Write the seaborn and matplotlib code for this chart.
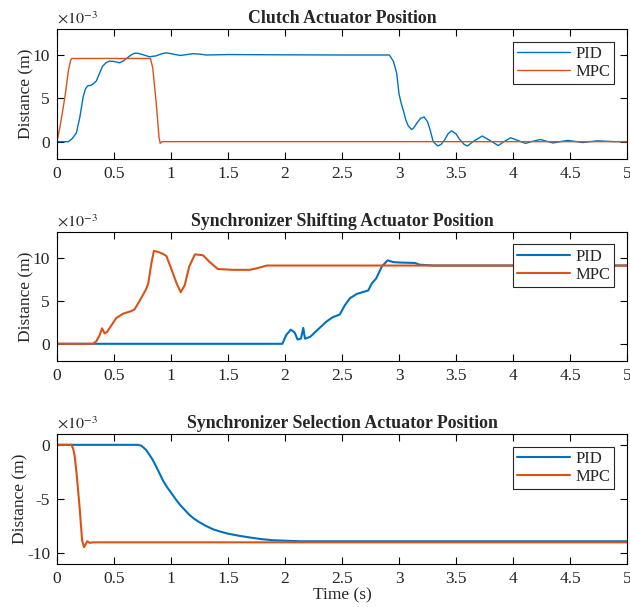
import matplotlib
matplotlib.use("Agg")
import matplotlib.pyplot as plt
import seaborn as sns
import pandas as pd
from matplotlib.ticker import FuncFormatter

# ---------------- data (values in 1e-3 m) ----------------
clutch_pid_t = [0, 0.10, 0.13, 0.17, 0.20, 0.23, 0.25, 0.27, 0.30, 0.32, 0.345, 0.37, 0.40, 0.43, 0.46,
                0.50, 0.55, 0.58, 0.61, 0.65, 0.68, 0.71, 0.75, 0.81, 0.87, 0.92, 0.96, 1.02, 1.08,
                1.14, 1.19, 1.25, 1.31, 1.50, 2.00, 2.50, 2.915, 2.95, 2.98, 3.00, 3.02, 3.04,
                3.06, 3.08, 3.11, 3.13, 3.16, 3.19, 3.22, 3.25, 3.27, 3.30, 3.34, 3.37, 3.40, 3.43,
                3.46, 3.50, 3.53, 3.57, 3.60, 3.66, 3.73, 3.79, 3.87,
                3.92, 3.98, 4.05, 4.11, 4.16, 4.24, 4.35, 4.48, 4.61, 4.74, 4.89, 5.0]
clutch_pid_y = [0, 0, 0.3, 1.0, 2.8, 5.2, 6.1, 6.45, 6.5, 6.7, 7.0, 7.8, 8.7, 9.1, 9.3,
                9.25, 9.1, 9.3, 9.6, 10.0, 10.2, 10.2, 10.05, 9.8, 9.9, 10.15, 10.25, 10.1, 9.95,
                10.05, 10.15, 10.1, 10.0, 10.05, 10.02, 10.0, 10.0, 9.3, 7.9, 5.5, 4.4, 3.5,
                2.5, 1.85, 1.4, 1.6, 2.2, 2.7, 2.85, 2.3, 1.5, 0.0, -0.5, -0.3, 0.2, 0.9,
                1.25, 0.9, 0.3, -0.3, -0.5, 0.1, 0.65, 0.2, -0.45,
                0.0, 0.45, 0.1, -0.2, 0.0, 0.25, -0.15, 0.15, -0.1, 0.1, 0.0, 0.0]
clutch_mpc_t = [0, 0.03, 0.07, 0.10, 0.12, 0.13, 0.82, 0.84, 0.87, 0.895, 0.905, 0.92, 5.0]
clutch_mpc_y = [0, 2.0, 5.2, 8.2, 9.4, 9.6, 9.6, 8.5, 4.5, 0.5, -0.2, 0.0, 0.0]

shift_pid_t = [0, 1.977, 2.01, 2.05, 2.085, 2.11, 2.14, 2.16, 2.175, 2.22, 2.30, 2.365, 2.42, 2.48,
               2.526, 2.57, 2.63, 2.73, 2.76, 2.80, 2.85, 2.90, 2.95, 3.01, 3.14, 3.18, 3.30, 5.0]
shift_pid_y = [0, 0, 1.0, 1.65, 1.3, 0.5, 0.6, 1.85, 0.6, 0.8, 1.8, 2.6, 3.1, 3.4,
               4.5, 5.3, 5.8, 6.2, 7.0, 7.6, 9.0, 9.7, 9.5, 9.45, 9.4, 9.2, 9.1, 9.1]
shift_mpc_t = [0, 0.316, 0.345, 0.374, 0.395, 0.418, 0.44, 0.48, 0.52, 0.58, 0.65, 0.68, 0.725, 0.78,
               0.80, 0.83, 0.85, 0.885, 0.93, 0.96, 1.00, 1.05, 1.085, 1.12, 1.16, 1.21, 1.28, 1.34, 1.41,
               1.54, 1.69, 1.76, 1.84, 5.0]
shift_mpc_y = [0, 0, 0.3, 1.0, 1.8, 1.2, 1.4, 2.2, 3.0, 3.5, 3.8, 4.0, 5.0, 6.3,
               7.0, 9.5, 10.8, 10.7, 10.45, 10.2, 8.8, 7.0, 6.0, 6.8, 9.0, 10.4, 10.3, 9.5, 8.7,
               8.6, 8.6, 8.8, 9.1, 9.1]

sel_pid_t = [0, 0.71, 0.74, 0.78, 0.81, 0.84, 0.87, 0.90, 0.93, 0.965, 1.00, 1.04, 1.076, 1.12, 1.16,
             1.20, 1.25, 1.31, 1.37, 1.43, 1.50, 1.60, 1.69, 1.79, 1.89, 2.00, 2.13, 5.0]
sel_pid_y = [0, 0, -0.08, -0.45, -0.9, -1.4, -2.0, -2.65, -3.3, -3.9, -4.4, -5.0, -5.5, -6.0, -6.45,
             -6.8, -7.15, -7.5, -7.8, -8.0, -8.2, -8.4, -8.55, -8.7, -8.8, -8.85, -8.9, -8.9]
sel_mpc_t = [0, 0.126, 0.14, 0.155, 0.175, 0.20, 0.22, 0.237, 0.25, 0.266, 0.287, 0.316, 5.0]
sel_mpc_y = [0, 0, -0.3, -1.0, -3.0, -6.0, -8.8, -9.45, -9.2, -8.9, -9.05, -9.0, -9.0]

titles = ["Clutch Actuator Position",
          "Synchronizer Shifting Actuator Position",
          "Synchronizer Selection Actuator Position"]
series_names = ["PID", "MPC"]
ylims = [(-2, 13), (-2, 13), (-11, 1)]
yticks = [[0, 5, 10], [0, 5, 10], [-10, -5, 0]]
xticks = [0, 0.5, 1, 1.5, 2, 2.5, 3, 3.5, 4, 4.5, 5]

# ---------------- style ----------------
sns.set_style("ticks")
plt.rcParams["font.family"] = ["Liberation Serif", "DejaVu Serif"]
plt.rcParams["mathtext.fontset"] = "stix"

BLUE = "#0072BD"
ORANGE = "#D95319"
TXT = "#262626"

fig = plt.figure(figsize=(6.3, 6.07), dpi=100)
W, H = 630, 607
boxes = [(29, 159), (232, 361), (434, 564)]
left, right = 57, 627

panels = [
    (clutch_pid_t, clutch_pid_y, clutch_mpc_t, clutch_mpc_y, 1.0),
    (shift_pid_t, shift_pid_y, shift_mpc_t, shift_mpc_y, 1.5),
    (sel_pid_t, sel_pid_y, sel_mpc_t, sel_mpc_y, 1.5),
]

for i, (pt, py, mt, my, lw) in enumerate(panels):
    top, bot = boxes[i]
    ax = fig.add_axes([left / W, 1 - bot / H, (right - left) / W, (bot - top) / H])
    df = pd.concat([
        pd.DataFrame({"t": pt, "y": py, "Controller": series_names[0]}),
        pd.DataFrame({"t": mt, "y": my, "Controller": series_names[1]}),
    ], ignore_index=True)
    sns.lineplot(data=df, x="t", y="y", hue="Controller",
                 palette={"PID": BLUE, "MPC": ORANGE},
                 estimator=None, sort=False, linewidth=lw, ax=ax)
    ax.set_xlim(0, 5)
    ax.set_ylim(*ylims[i])
    ax.set_xticks(xticks)
    ax.set_yticks(yticks[i])
    ax.xaxis.set_major_formatter(FuncFormatter(lambda v, p: f"{v:g}"))
    ax.yaxis.set_major_formatter(FuncFormatter(lambda v, p: f"{v:g}"))
    ax.tick_params(direction="in", length=5, width=0.8, top=True, right=True,
                   labelsize=12.5, colors="black", labelcolor=TXT, pad=5)
    for s in ax.spines.values():
        s.set_visible(True)
        s.set_linewidth(0.8)
        s.set_color("black")
    ax.set_title(titles[i], fontsize=12.8, fontweight="bold", pad=4)
    ax.set_ylabel("Distance (m)", fontsize=12.5, color=TXT, labelpad=-1)
    if i == 2:
        ax.set_xlabel("Time (s)", fontsize=12.5, color=TXT, labelpad=0)
    else:
        ax.set_xlabel("")
    ax.text(0.0, 1.012, r"$\times 10^{-3}$", transform=ax.transAxes,
            fontsize=11.5, color=TXT, ha="left", va="bottom")
    leg = ax.legend(loc="upper right", frameon=True, fancybox=False,
                    edgecolor="#262626", framealpha=1, fontsize=12,
                    handlelength=3.2, handletextpad=0.3, borderaxespad=0.75,
                    borderpad=0.25, labelspacing=0.15, title=None)
    leg.get_frame().set_linewidth(0.8)
    for txt in leg.get_texts():
        txt.set_color(TXT)

fig.savefig("out.png", dpi=100)
